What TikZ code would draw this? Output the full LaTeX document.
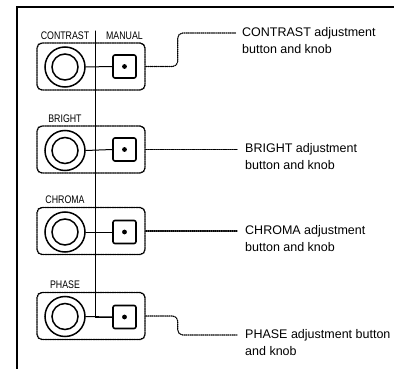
\documentclass[tikz,border=0pt]{standalone}
\usepackage{fontspec}
\setmainfont{Liberation Sans}
\usetikzlibrary{positioning}

\begin{document}
\begin{tikzpicture}[x=1pt,y=-1pt,line cap=round,
  panel/.style={draw,densely dotted,line width=1.4pt,rounded corners=5pt,minimum width=108pt,minimum height=47pt,inner sep=0pt},
  knob/.style={draw,circle,line width=1.5pt,minimum size=40pt,inner sep=0pt},
  knobin/.style={draw,circle,line width=1.5pt,minimum size=26pt,inner sep=0pt},
  btn/.style={draw,line width=1.6pt,rounded corners=2pt,minimum size=23pt,inner sep=0pt},
  tag/.style={font=\fontsize{11}{12}\selectfont,xscale=0.8,inner sep=1pt},
  note/.style={font=\fontsize{12.5}{15}\selectfont,inner sep=0pt,text height=9pt,text depth=2.5pt},
  leader/.style={densely dotted,line width=1.1pt,rounded corners=5pt},
  bus/.style={line width=1pt}]
\useasboundingbox (0,0) rectangle (394,369);
% frame
\coordinate (fbl) at (17,369);
\coordinate (ftl) at (17,7);
\coordinate (ftr) at (394,7);
\draw[line width=1.2pt] (fbl) -- (ftl) -- (ftr);
% panels
\node[panel] (p1) at (91,66.5) {};
\node[panel] (p2) at (91,149.5) {};
\node[panel] (p3) at (91,231) {};
\node[panel] (p4) at (91,316) {};
% knobs
\node[knob] (k1) at (65,67) {};
\node[knobin] (k1i) at (k1) {};
\node[knob] (k2) at (65,150.5) {};
\node[knobin] (k2i) at (k2) {};
\node[knob] (k3) at (65,232) {};
\node[knobin] (k3i) at (k3) {};
\node[knob] (k4) at (65,316.5) {};
\node[knobin] (k4i) at (k4) {};
% buttons
\node[btn] (b1) at (124.5,66.5) {};
\fill (b1) circle (2.4pt);
\node[btn] (b2) at (124.5,149.5) {};
\fill (b2) circle (2.4pt);
\node[btn] (b3) at (124.5,232) {};
\fill (b3) circle (2.4pt);
\node[btn] (b4) at (124.5,317) {};
\fill (b4) circle (2.4pt);
% labels
\node[tag,above=1.5pt] (l1) at (k1 |- p1.north) {CONTRAST};
\node[tag,above=1.5pt] (l1m) at (b1 |- p1.north) {MANUAL};
\node[tag,above=1.5pt] (l2) at (k2 |- p2.north) {BRIGHT};
\node[tag,above=1.5pt] (l3) at (k3 |- p3.north) {CHROMA};
\node[tag,above=1.5pt] (l4) at (k4 |- p4.north) {PHASE};
% bus and links
\coordinate (bustop) at (95,31);
\draw[bus] (bustop) |- (b4.west);
\draw[bus] (k1.east) -- (b1.west);
\draw[bus] (k2.east) -- (b2.west);
\draw[bus] (k3.east) -- (b3.west);
\draw[bus] (k4.east) -- (b4.west);
% notes
\node[note,anchor=west] (t1) at (242,33) {CONTRAST adjustment};
\node[note,anchor=west] (t1b) at ([yshift=-17pt]t1.west) {button and knob};
\node[note,anchor=west] (t2) at (245,149.5) {BRIGHT adjustment};
\node[note,anchor=west] (t2b) at ([yshift=-17pt]t2.west) {button and knob};
\node[note,anchor=west] (t3) at (245,231) {CHROMA adjustment};
\node[note,anchor=west] (t3b) at ([yshift=-17pt]t3.west) {button and knob};
\node[note,anchor=west] (t4) at (245,335) {PHASE adjustment button};
\node[note,anchor=west] (t4b) at ([yshift=-17pt]t4.west) {and knob};
% leaders
\draw[leader] (p1.east) -- ++(32,0) |- ([xshift=-6pt]t1.west);
\draw[leader] (p2.east) -- ([xshift=-8pt]t2.west);
\draw[leader] (p3.east) -- ([xshift=-8pt]t3.west);
\draw[leader] (p4.east) -- ++(32,0) |- ([xshift=-8pt]t4.west);
\end{tikzpicture}
\end{document}
